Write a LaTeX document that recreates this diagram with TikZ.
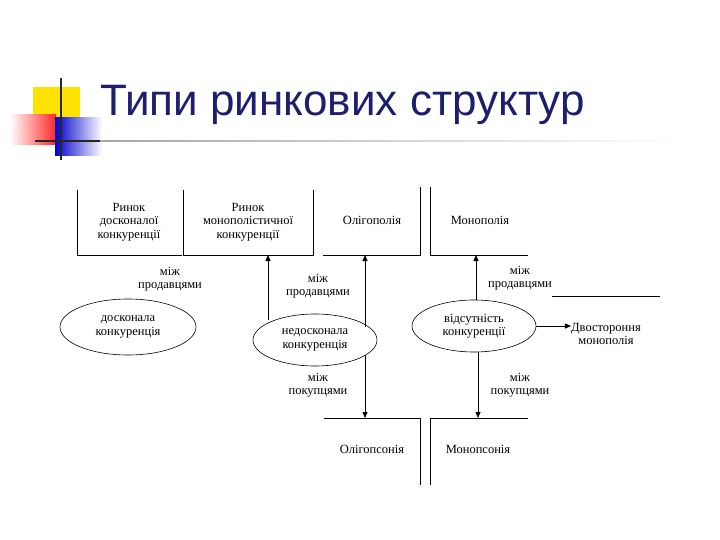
\documentclass[tikz,border=0pt]{standalone}
\usepackage{fontspec}
\setmainfont{Liberation Serif}
\newfontfamily\titlefont{Liberation Sans}
\usetikzlibrary{arrows.meta,shapes.geometric}
\definecolor{navy}{RGB}{30,30,110}
\begin{document}
\begin{tikzpicture}[x=1pt,y=-1pt,
  ln/.style={line width=0.8pt},
  arr/.style={ln,-{Triangle[length=6pt,width=5pt]}},
  lbl/.style={font=\fontsize{12.5}{13.5}\selectfont,align=center,inner sep=0pt},
  ell/.style={draw,ellipse,inner sep=0pt,line width=0.6pt,font=\fontsize{12.5}{13.5}\selectfont,align=center}]
\useasboundingbox (0,0) rectangle (720,540);
% logo
\fill[yellow!85!orange] (33,87) rectangle (80,130);
\shade[left color=white,right color=red!85] (10,115) rectangle (56,145);
\shade[left color=blue!80!black,right color=white] (55,118) rectangle (102,156);
\draw[line width=2pt,black!85] (61,78) -- (61,160);
\draw[line width=1.5pt,black!85] (35,141) -- (100,141);
\shade[left color=gray!70,right color=white] (100,140.5) rectangle (680,141.5);
\node[anchor=west,text=navy,font=\titlefont\fontsize{44}{48}\selectfont,inner sep=0pt] (title) at (100,105) {Типи ринкових структур};
% top boxes
\draw[ln] (77,190) -- (77,255) -- (182,255);
\draw[ln] (183,190) -- (183,255) -- (313,255) -- (313,190);
\draw[ln] (323,255) -- (420,255) -- (420,187);
\draw[ln] (430,187) -- (430,255) -- (528,255);
\node[lbl] (b1) at (129,222) {Ринок\\досконалої\\конкуренції};
\node[lbl] (b2) at (248,222) {Ринок\\монополістичної\\конкуренції};
\node[lbl] (b3) at (372,220) {Олігополія};
\node[lbl] (b4) at (480,220) {Монополія};
\coordinate (t2) at (268,255);
\coordinate (t3) at (365,255);
\coordinate (t4) at (476,255);
% ellipses
\node[ell,minimum width=136pt,minimum height=56pt] (e1) at (128,327) {досконала\\конкуренція};
\node[ell,minimum width=124pt,minimum height=52pt] (e2) at (315,340) {недосконала\\конкуренція};
\node[ell,minimum width=124pt,minimum height=52pt] (e3) at (474,326) {відсутність\\конкуренції};
\node[lbl] (dm) at (606,334) {Двостороння\\монополія};
\draw[ln] (552,296) -- (660,296);
% arrows
\draw[arr] (268,320) -- (t2);
\draw[arr] (365,327) -- (t3);
\draw[arr] (e3.north -| t4) -- (t4);
\draw[arr] (e3.east) -- (dm.west |- e3.east);
\coordinate (d1) at (365,418);
\coordinate (d2) at (478,418);
\draw[arr] (365,355) -- (d1);
\draw[arr] (e3.south -| d2) -- (d2);
% bottom
\draw[ln] (324,418) -- (420,418) -- (420,485);
\draw[ln] (430,485) -- (430,418) -- (528,418);
\node[lbl] (b5) at (372,449) {Олігопсонія};
\node[lbl] (b6) at (478,449) {Монопсонія};
% labels
\node[lbl] (l1) at (170,279) {між\\продавцями};
\node[lbl] (l2) at (318,286) {між\\продавцями};
\node[lbl] (l3) at (520,278) {між\\продавцями};
\node[lbl] (l4) at (318,385) {між\\покупцями};
\node[lbl] (l5) at (520,385) {між\\покупцями};
\end{tikzpicture}
\end{document}
